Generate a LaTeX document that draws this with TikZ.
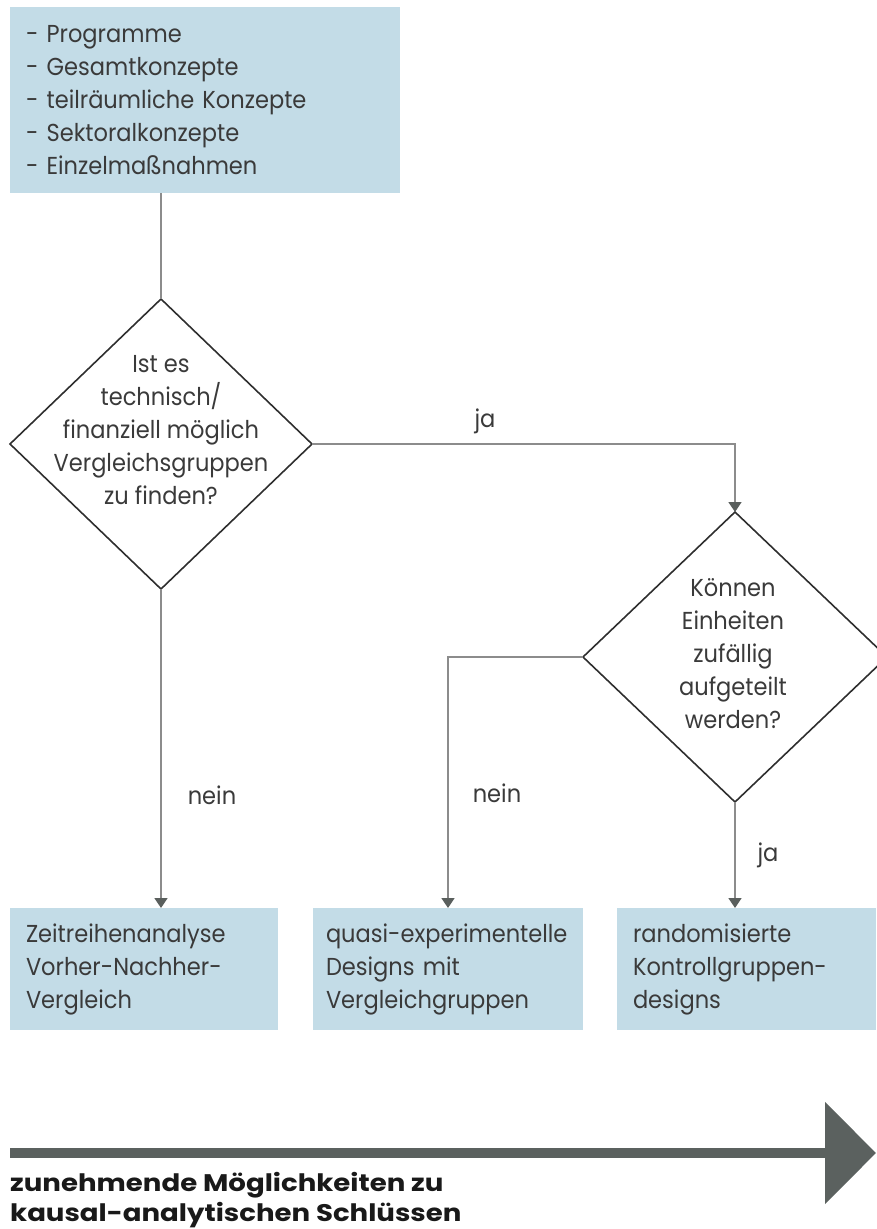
\documentclass[tikz,border=0pt]{standalone}
\usepackage{fontspec}
\setmainfont{Poppins}[FakeStretch=0.92]
\newfontfamily\capfont{Poppins}[FakeStretch=1.15]
\usetikzlibrary{arrows.meta,shapes.geometric}
\definecolor{boxblue}{HTML}{C3DCE7}
\definecolor{txtgray}{HTML}{3A3A3A}
\definecolor{linegray}{HTML}{8C8C8C}
\definecolor{tipgray}{HTML}{5A5F5D}
\definecolor{arrowgray}{HTML}{5B615F}
\definecolor{diagray}{HTML}{2E2E2E}
\tikzset{
  txt/.style={font=\fontsize{24.5}{33}\selectfont, text=txtgray},
  bluebox/.style={txt, fill=boxblue, draw=none, rectangle, anchor=north west,
    align=left, inner xsep=16pt, inner ysep=0pt, outer sep=0pt},
  decision/.style={diamond, draw=diagray, line width=1.6pt, outer sep=0pt, inner sep=0pt},
  conn/.style={draw=linegray, line width=1.6pt},
  arr/.style={conn, -{Triangle[width=13pt,length=10pt,color=tipgray]}},
  lbl/.style={txt, inner sep=0pt},
}
\begin{document}
\begin{tikzpicture}[x=1pt,y=-1pt]
\useasboundingbox (0,0) rectangle (876,1229);
% top box
\node[bluebox, minimum width=390pt, minimum height=186pt, text width=358pt] (top) at (10,7)
  {- Programme\\- Gesamtkonzepte\\- teilräumliche Konzepte\\- Sektoralkonzepte\\- Einzelmaßnahmen};
% decisions
\node[decision, minimum width=302pt, minimum height=290pt] (d1) at (161,444) {};
\node[txt, align=center, inner sep=0pt] (d1t) at (161,430)
  {Ist es\\technisch/\\finanziell möglich\\Vergleichsgruppen\\zu finden?};
\node[decision, minimum width=304pt, minimum height=290pt] (d2) at (735,657) {};
\node[txt, align=center, inner sep=0pt] (d2t) at (733,654)
  {Können\\Einheiten\\zufällig\\aufgeteilt\\werden?};
% result boxes
\node[bluebox, minimum width=268pt, minimum height=122pt, text width=236pt] (b1) at (10,908)
  {Zeitreihenanalyse\\Vorher-Nachher-\\Vergleich};
\node[bluebox, inner xsep=13pt, minimum width=270pt, minimum height=122pt, text width=244pt] (b2) at (313,908)
  {\mbox{quasi-experimentelle}\\Designs mit\\Vergleichgruppen};
\node[bluebox, minimum width=259pt, minimum height=122pt, text width=227pt] (b3) at (617,908)
  {randomisierte\\Kontrollgruppen-\\designs};
% connectors
\draw[conn] (d1.north |- top.south) -- (d1.north);
\draw[arr] (d1.east) -| (d2.north);
\draw[arr] (d1.south) -- (d1.south |- b1.north);
\draw[arr] (d2.west) -| (b2.north);
\draw[arr] (d2.south) -- (d2.south |- b3.north);
% labels
\node[lbl] (lja1) at (485,421) {ja};
\node[lbl] (lnein1) at (212,795) {nein};
\node[lbl] (lnein2) at (497,793) {nein};
\node[lbl] (lja2) at (768,855) {ja};
% big arrow
\coordinate (as) at (10,1153);
\coordinate (ae) at (876,1153);
\draw[draw=arrowgray, line width=10pt, -{Triangle[length=51pt,width=100pt,color=arrowgray]}] (as) -- (ae);
\node[anchor=west, align=left, inner sep=0pt, font=\capfont\fontsize{24}{30}\selectfont\bfseries, text=black!90] (caption) at (10,1200)
  {zunehmende Möglichkeiten zu\\kausal-analytischen Schlüssen};
\end{tikzpicture}
\end{document}
